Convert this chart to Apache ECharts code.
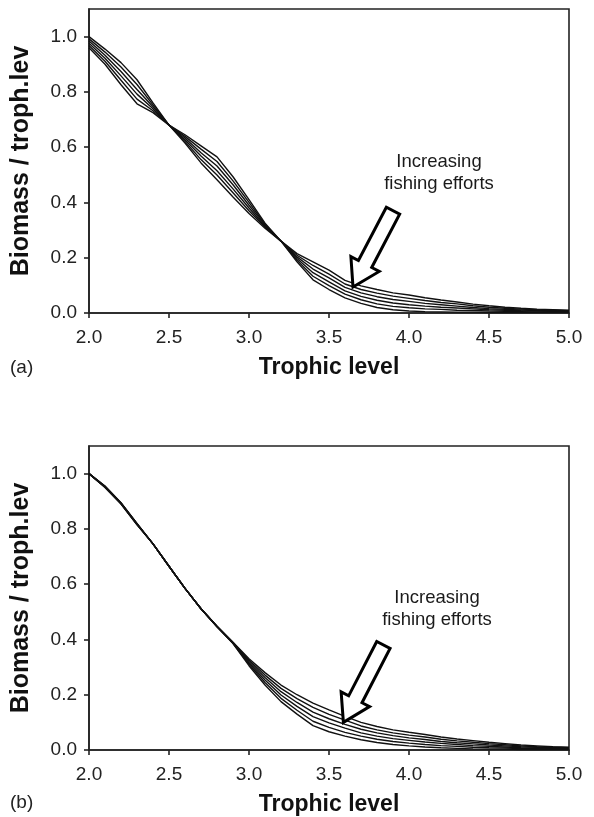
<!DOCTYPE html>
<html>
<head>
<meta charset="utf-8">
<script src="https://cdn.jsdelivr.net/npm/echarts@6/dist/echarts.min.js"></script>
<style>
  html, body { margin: 0; padding: 0; background: #fff; }
  #container { width: 594px; height: 817px; }
</style>
</head>
<body>
<div id="container"></div>
<script>
  // trophic levels (x) shared by both panels
  var trophicLevels = [2.0, 2.1, 2.2, 2.3, 2.4, 2.5, 2.6, 2.7, 2.8, 2.9, 3.0,
    3.1, 3.2, 3.3, 3.4, 3.5, 3.6, 3.7, 3.8, 3.9, 4.0,
    4.1, 4.2, 4.3, 4.4, 4.5, 4.6, 4.7, 4.8, 4.9, 5.0];
  var xTicks = [2.0, 2.5, 3.0, 3.5, 4.0, 4.5, 5.0];
  var yTicks = [0, 0.2, 0.4, 0.6, 0.8, 1.0];

  // panel (a): six runs, lowest fishing effort first
  var effortA1 = [1.000,0.955,0.906,0.844,0.760,0.680,0.615,0.543,0.482,0.420,0.360,0.307,0.260,0.215,0.185,0.155,0.118,0.098,0.085,0.073,0.065,0.055,0.047,0.040,0.032,0.026,0.021,0.017,0.014,0.012,0.010];
  var effortA2 = [0.992,0.944,0.890,0.827,0.753,0.680,0.621,0.555,0.499,0.435,0.370,0.311,0.260,0.209,0.172,0.141,0.105,0.085,0.072,0.061,0.053,0.045,0.038,0.033,0.026,0.021,0.017,0.014,0.012,0.010,0.008];
  var effortA3 = [0.984,0.933,0.874,0.809,0.746,0.680,0.627,0.568,0.515,0.449,0.380,0.314,0.260,0.203,0.159,0.127,0.093,0.073,0.059,0.049,0.042,0.035,0.030,0.025,0.020,0.016,0.013,0.011,0.009,0.008,0.007];
  var effortA4 = [0.976,0.922,0.858,0.792,0.739,0.680,0.633,0.580,0.532,0.464,0.390,0.318,0.260,0.197,0.146,0.113,0.080,0.060,0.046,0.036,0.030,0.025,0.021,0.018,0.015,0.012,0.010,0.008,0.007,0.006,0.005];
  var effortA5 = [0.968,0.911,0.842,0.774,0.732,0.680,0.639,0.593,0.548,0.478,0.400,0.321,0.260,0.191,0.133,0.099,0.068,0.048,0.033,0.024,0.019,0.015,0.013,0.010,0.009,0.007,0.006,0.005,0.004,0.004,0.004];
  var effortA6 = [0.960,0.900,0.826,0.757,0.725,0.680,0.645,0.605,0.565,0.493,0.410,0.325,0.260,0.185,0.120,0.085,0.055,0.035,0.020,0.012,0.007,0.005,0.004,0.003,0.003,0.002,0.002,0.002,0.002,0.002,0.002];

  // panel (b)
  var effortB1 = [1.000,0.955,0.895,0.820,0.746,0.665,0.585,0.511,0.448,0.390,0.330,0.280,0.235,0.200,0.170,0.145,0.122,0.100,0.085,0.073,0.064,0.056,0.047,0.040,0.034,0.028,0.023,0.018,0.015,0.012,0.010];
  var effortB2 = [1.000,0.954,0.894,0.819,0.746,0.665,0.585,0.511,0.448,0.389,0.325,0.271,0.223,0.186,0.154,0.129,0.108,0.087,0.073,0.062,0.054,0.047,0.039,0.033,0.028,0.023,0.019,0.015,0.012,0.010,0.008];
  var effortB3 = [1.000,0.953,0.893,0.818,0.746,0.665,0.585,0.511,0.447,0.388,0.320,0.262,0.211,0.172,0.137,0.113,0.093,0.075,0.062,0.052,0.044,0.038,0.031,0.026,0.022,0.018,0.015,0.012,0.010,0.008,0.007];
  var effortB4 = [1.000,0.952,0.892,0.817,0.746,0.665,0.585,0.511,0.447,0.387,0.315,0.253,0.199,0.158,0.121,0.098,0.079,0.062,0.050,0.041,0.035,0.029,0.024,0.020,0.016,0.013,0.011,0.008,0.007,0.006,0.005];
  var effortB5 = [1.000,0.951,0.891,0.816,0.746,0.665,0.585,0.511,0.446,0.386,0.310,0.244,0.187,0.144,0.104,0.082,0.064,0.050,0.039,0.031,0.025,0.020,0.016,0.013,0.010,0.008,0.007,0.005,0.005,0.004,0.004];
  var effortB6 = [1.000,0.950,0.890,0.815,0.746,0.665,0.585,0.511,0.446,0.385,0.305,0.235,0.175,0.130,0.088,0.066,0.050,0.037,0.027,0.020,0.015,0.011,0.008,0.006,0.004,0.003,0.003,0.002,0.002,0.002,0.002];

  var panelA = [effortA1, effortA2, effortA3, effortA4, effortA5, effortA6];
  var panelB = [effortB1, effortB2, effortB3, effortB4, effortB5, effortB6];

  // arrow annotations in data units: [tail, tip]
  var arrowA = [[3.90, 0.37], [3.65, 0.094]];
  var arrowB = [[3.84, 0.38], [3.59, 0.10]];

  var font = "'Liberation Sans', Arial, Helvetica, sans-serif";

  function xAxisFor(idx) {
    return {
      gridIndex: idx,
      type: 'value',
      min: 2,
      max: 5,
      interval: 0.5,
      name: 'Trophic level',
      nameLocation: 'middle',
      nameGap: 43,
      nameTextStyle: { fontFamily: font, fontSize: 23, fontWeight: 'bold', color: '#111' },
      axisLine: { lineStyle: { color: '#222', width: 1.6 } },
      axisTick: { show: true, inside: false, length: 5, customValues: xTicks, lineStyle: { color: '#222', width: 1.6 } },
      axisLabel: {
        customValues: xTicks,
        margin: 15,
        fontFamily: font, fontSize: 19, color: '#222',
        formatter: function (v) { return v.toFixed(1); }
      },
      splitLine: { show: false }
    };
  }

  function yAxisFor(idx) {
    return {
      gridIndex: idx,
      type: 'value',
      min: 0,
      max: 1.1,
      name: 'Biomass / troph.lev',
      nameLocation: 'middle',
      nameGap: 55,
      nameTextStyle: { fontFamily: font, fontSize: 25, fontWeight: 'bold', color: '#111' },
      axisLine: { show: true, lineStyle: { color: '#222', width: 1.6 } },
      axisTick: { show: true, inside: false, length: 5, customValues: yTicks, lineStyle: { color: '#222', width: 1.6 } },
      axisLabel: {
        customValues: yTicks,
        margin: 12,
        fontFamily: font, fontSize: 19, color: '#222',
        formatter: function (v) { return v.toFixed(1); }
      },
      splitLine: { show: false }
    };
  }

  function seriesFor(lines, idx) {
    return lines.map(function (vals, k) {
      return {
        name: 'effort ' + (k + 1),
        type: 'line',
        xAxisIndex: idx,
        yAxisIndex: idx,
        symbol: 'none',
        silent: true,
        lineStyle: { color: '#111', width: 1.4 },
        data: trophicLevels.map(function (x, i) { return [x, vals[i]]; })
      };
    });
  }

  var dom = document.getElementById('container');
  var myChart = echarts.init(dom, null, { renderer: 'canvas' });
  var option = {
    animation: false,
    backgroundColor: '#fff',
    grid: [
      { left: 89, top: 9, width: 480, height: 304, show: true, borderColor: '#222', borderWidth: 1.6 },
      { left: 89, top: 446, width: 480, height: 304, show: true, borderColor: '#222', borderWidth: 1.6 }
    ],
    xAxis: [xAxisFor(0), xAxisFor(1)],
    yAxis: [yAxisFor(0), yAxisFor(1)],
    series: seriesFor(panelA, 0).concat(seriesFor(panelB, 1))
  };
  myChart.setOption(option, true);

  // hollow arrow built around the tail->tip direction
  function arrowPoints(tail, tip) {
    var dx = tip[0] - tail[0], dy = tip[1] - tail[1];
    var len = Math.sqrt(dx * dx + dy * dy);
    var ux = dx / len, uy = dy / len;
    var nx = -uy, ny = ux;
    var w = 7.5, hw = 16, hl = 26;
    var bx = tip[0] - ux * hl, by = tip[1] - uy * hl;
    return [
      [tail[0] + nx * w, tail[1] + ny * w],
      [bx + nx * w, by + ny * w],
      [bx + nx * hw, by + ny * hw],
      [tip[0], tip[1]],
      [bx - nx * hw, by - ny * hw],
      [bx - nx * w, by - ny * w],
      [tail[0] - nx * w, tail[1] - ny * w]
    ];
  }

  function arrowGraphic(arrow, idx) {
    var tail = myChart.convertToPixel({ gridIndex: idx }, arrow[0]);
    var tip = myChart.convertToPixel({ gridIndex: idx }, arrow[1]);
    return {
      type: 'polygon',
      z: 100,
      shape: { points: arrowPoints(tail, tip) },
      style: { fill: '#fff', stroke: '#000', lineWidth: 3, lineJoin: 'miter' }
    };
  }

  function noteGraphic(x, y) {
    return {
      type: 'text',
      z: 100,
      x: x,
      y: y,
      style: {
        text: 'Increasing\nfishing efforts',
        fontFamily: font, fontSize: 18.5, lineHeight: 22,
        fill: '#1a1a1a', align: 'center', verticalAlign: 'top'
      }
    };
  }

  function panelTag(label, y) {
    return {
      type: 'text', x: 10, y: y,
      style: { text: label, fontFamily: font, fontSize: 19, fill: '#222', verticalAlign: 'middle' }
    };
  }

  myChart.setOption({
    graphic: [
      arrowGraphic(arrowA, 0),
      arrowGraphic(arrowB, 1),
      noteGraphic(439, 151),
      noteGraphic(437, 587),
      panelTag('(a)', 368),
      panelTag('(b)', 803)
    ]
  });
</script>
</body>
</html>
